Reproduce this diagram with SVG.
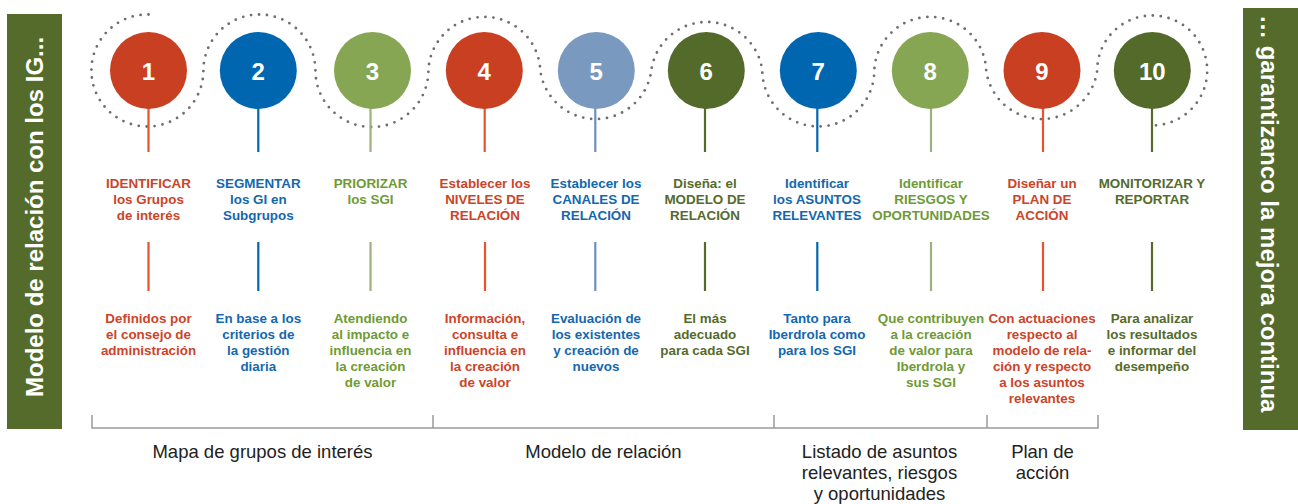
<svg xmlns="http://www.w3.org/2000/svg" width="1298" height="504" viewBox="0 0 1298 504">
<style>
.num{font-family:"Liberation Sans",Arial,sans-serif;font-weight:bold;font-size:24px;fill:#fff;text-anchor:middle}
.t{font-family:"Liberation Sans",Arial,sans-serif;font-weight:bold;font-size:13.4px;text-anchor:middle}
.bar{fill:#556B2B}
.bt{font-family:"Liberation Sans",Arial,sans-serif;font-weight:bold;font-size:24px;fill:#fff}
.lab{font-family:"Liberation Sans",Arial,sans-serif;font-size:18.5px;fill:#222;text-anchor:middle}
.red{fill:#CC4428}.blue{fill:#1368B0}.green{fill:#6F9A34}.dgreen{fill:#556B2B}
.cred{fill:#C93F22}.cblue{fill:#0066B0}.cgreen{fill:#86A654}.cslate{fill:#7A99BF}.cdgreen{fill:#536A2B}
.sred{stroke:#E8532B}.sblue{stroke:#0066B0}.sgreen{stroke:#9DB081}.sslate{stroke:#6D8FBE}.sdgreen{stroke:#556B2B}
.stem{stroke-width:2.2;fill:none}
.dots{fill:none;stroke:#6E6E6E;stroke-width:2.8;stroke-linecap:round;stroke-dasharray:0 8}
.br{fill:none;stroke:#9A9A9A;stroke-width:1.5}
</style>

<g id="bar-left">
<rect class="bar" x="7" y="14" width="55" height="415"/>
<text class="bt" transform="translate(43,397) rotate(-90)">Modelo de relación con los IG...</text>
</g>
<g id="bar-right">
<rect class="bar" x="1243" y="8" width="55" height="422"/>
<text class="bt" transform="translate(1261,15) rotate(90)">… garantizanco la mejora continua</text>
</g>

<g id="connectors">
<path class="dots" d="M148.5,14.5 A56,56 0 1 0 203.4,70.5 A56,56 0 0 1 315.4,70.5 A56,56 0 0 0 428.4,70.5 A56,56 0 0 1 540.3,70.5 A56,56 0 0 0 651.3,70.5 A56,56 0 0 1 762.3,70.5 A56,56 0 0 0 874.3,70.5 A56,56 0 0 1 986.2,70.5 A56,56 0 0 0 1097.2,70.5 A55,55 0 1 1 1152.3,125.5"/>
</g>

<g id="node1">
<line class="stem sred" x1="148.5" y1="100" x2="148.5" y2="152"/>
<circle class="cred" cx="148.5" cy="70.5" r="38.5"/>
<text class="num" x="148.5" y="79.5">1</text>
<text class="t red" x="148.5" y="188">IDENTIFICAR</text>
<text class="t red" x="148.5" y="204">los Grupos</text>
<text class="t red" x="148.5" y="220">de interés</text>
<line class="stem sred" x1="148.5" y1="242" x2="148.5" y2="291"/>
<text class="t red" x="148.5" y="323">Definidos por</text>
<text class="t red" x="148.5" y="339">el consejo de</text>
<text class="t red" x="148.5" y="355">administración</text>
</g>

<g id="node2">
<line class="stem sblue" x1="258.3" y1="100" x2="258.3" y2="152"/>
<circle class="cblue" cx="258.3" cy="70.5" r="38.5"/>
<text class="num" x="258.3" y="79.5">2</text>
<text class="t blue" x="258.3" y="188">SEGMENTAR</text>
<text class="t blue" x="258.3" y="204">los GI en</text>
<text class="t blue" x="258.3" y="220">Subgrupos</text>
<line class="stem sblue" x1="258.3" y1="242" x2="258.3" y2="291"/>
<text class="t blue" x="258.3" y="323">En base a los</text>
<text class="t blue" x="258.3" y="339">criterios de</text>
<text class="t blue" x="258.3" y="355">la gestión</text>
<text class="t blue" x="258.3" y="371">diaria</text>
</g>

<g id="node3">
<line class="stem sgreen" x1="370.5" y1="100" x2="370.5" y2="152"/>
<circle class="cgreen" cx="372.5" cy="70.5" r="38.5"/>
<text class="num" x="372.5" y="79.5">3</text>
<text class="t green" x="370.5" y="188">PRIORIZAR</text>
<text class="t green" x="370.5" y="204">los SGI</text>
<line class="stem sgreen" x1="370.5" y1="242" x2="370.5" y2="291"/>
<text class="t green" x="370.5" y="323">Atendiendo</text>
<text class="t green" x="370.5" y="339">al impacto e</text>
<text class="t green" x="370.5" y="355">influencia en</text>
<text class="t green" x="370.5" y="371">la creación</text>
<text class="t green" x="370.5" y="387">de valor</text>
</g>

<g id="node4">
<line class="stem sred" x1="484.7" y1="100" x2="484.7" y2="152"/>
<circle class="cred" cx="484.3" cy="70.5" r="38.5"/>
<text class="num" x="484.3" y="79.5">4</text>
<text class="t red" x="485" y="188">Establecer los</text>
<text class="t red" x="485" y="204">NIVELES DE</text>
<text class="t red" x="485" y="220">RELACIÓN</text>
<line class="stem sred" x1="485" y1="242" x2="485" y2="291"/>
<text class="t red" x="485" y="323">Información,</text>
<text class="t red" x="485" y="339">consulta e</text>
<text class="t red" x="485" y="355">influencia en</text>
<text class="t red" x="485" y="371">la creación</text>
<text class="t red" x="485" y="387">de valor</text>
</g>

<g id="node5">
<line class="stem sslate" x1="595.3" y1="100" x2="595.3" y2="152"/>
<circle class="cslate" cx="596.3" cy="70.5" r="38.5"/>
<text class="num" x="596.3" y="79.5">5</text>
<text class="t blue" x="596" y="188">Establecer los</text>
<text class="t blue" x="596" y="204">CANALES DE</text>
<text class="t blue" x="596" y="220">RELACIÓN</text>
<line class="stem sslate" x1="595.3" y1="242" x2="595.3" y2="291"/>
<text class="t blue" x="596" y="323">Evaluación de</text>
<text class="t blue" x="596" y="339">los existentes</text>
<text class="t blue" x="596" y="355">y creación de</text>
<text class="t blue" x="596" y="371">nuevos</text>
</g>

<g id="node6">
<line class="stem sdgreen" x1="705" y1="100" x2="705" y2="152"/>
<circle class="cdgreen" cx="706.3" cy="70.5" r="38.5"/>
<text class="num" x="706.3" y="79.5">6</text>
<text class="t dgreen" x="705" y="188">Diseña: el</text>
<text class="t dgreen" x="705" y="204">MODELO DE</text>
<text class="t dgreen" x="705" y="220">RELACIÓN</text>
<line class="stem sdgreen" x1="705" y1="242" x2="705" y2="291"/>
<text class="t dgreen" x="705" y="323">El más</text>
<text class="t dgreen" x="705" y="339">adecuado</text>
<text class="t dgreen" x="705" y="355">para cada SGI</text>
</g>

<g id="node7">
<line class="stem sblue" x1="817.3" y1="100" x2="817.3" y2="152"/>
<circle class="cblue" cx="818.3" cy="70.5" r="38.5"/>
<text class="num" x="818.3" y="79.5">7</text>
<text class="t blue" x="817" y="188">Identificar</text>
<text class="t blue" x="817" y="204">los ASUNTOS</text>
<text class="t blue" x="817" y="220">RELEVANTES</text>
<line class="stem sblue" x1="817.3" y1="242" x2="817.3" y2="291"/>
<text class="t blue" x="817" y="323">Tanto para</text>
<text class="t blue" x="817" y="339">Iberdrola como</text>
<text class="t blue" x="817" y="355">para los SGI</text>
</g>

<g id="node8">
<line class="stem sgreen" x1="931" y1="100" x2="931" y2="152"/>
<circle class="cgreen" cx="930.3" cy="70.5" r="38.5"/>
<text class="num" x="930.3" y="79.5">8</text>
<text class="t green" x="931" y="188">Identificar</text>
<text class="t green" x="931" y="204">RIESGOS Y</text>
<text class="t green" x="931" y="220">OPORTUNIDADES</text>
<line class="stem sgreen" x1="931" y1="242" x2="931" y2="291"/>
<text class="t green" x="931" y="323">Que contribuyen</text>
<text class="t green" x="931" y="339">a la creación</text>
<text class="t green" x="931" y="355">de valor para</text>
<text class="t green" x="931" y="371">Iberdrola y</text>
<text class="t green" x="931" y="387">sus SGI</text>
</g>

<g id="node9">
<line class="stem sred" x1="1043" y1="100" x2="1043" y2="152"/>
<circle class="cred" cx="1042" cy="70.5" r="38.5"/>
<text class="num" x="1042" y="79.5">9</text>
<text class="t red" x="1042" y="188">Diseñar un</text>
<text class="t red" x="1042" y="204">PLAN DE</text>
<text class="t red" x="1042" y="220">ACCIÓN</text>
<line class="stem sred" x1="1043" y1="242" x2="1043" y2="291"/>
<text class="t red" x="1042" y="323">Con actuaciones</text>
<text class="t red" x="1042" y="339">respecto al</text>
<text class="t red" x="1042" y="355">modelo de rela-</text>
<text class="t red" x="1042" y="371">ción y respecto</text>
<text class="t red" x="1042" y="387">a los asuntos</text>
<text class="t red" x="1042" y="403">relevantes</text>
</g>

<g id="node10">
<line class="stem sdgreen" x1="1152" y1="100" x2="1152" y2="152"/>
<circle class="cdgreen" cx="1152.3" cy="70.5" r="38.5"/>
<text class="num" x="1152.3" y="79.5">10</text>
<text class="t dgreen" x="1152" y="188">MONITORIZAR Y</text>
<text class="t dgreen" x="1152" y="204">REPORTAR</text>
<line class="stem sdgreen" x1="1152" y1="242" x2="1152" y2="291"/>
<text class="t dgreen" x="1152" y="323">Para analizar</text>
<text class="t dgreen" x="1152" y="339">los resultados</text>
<text class="t dgreen" x="1152" y="355">e informar del</text>
<text class="t dgreen" x="1152" y="371">desempeño</text>
</g>

<g id="phases">
<path class="br" d="M92,415 V428 H1098 V415 M433,415 V428 M774,415 V428 M987,415 V428"/>
<text class="lab" x="262.5" y="458">Mapa de grupos de interés</text>
<text class="lab" x="603.5" y="458">Modelo de relación</text>
<text class="lab" x="879.5" y="458">Listado de asuntos</text>
<text class="lab" x="879.5" y="479">relevantes, riesgos</text>
<text class="lab" x="879.5" y="500">y oportunidades</text>
<text class="lab" x="1042.5" y="458">Plan de</text>
<text class="lab" x="1042.5" y="479">acción</text>
</g>
</svg>
